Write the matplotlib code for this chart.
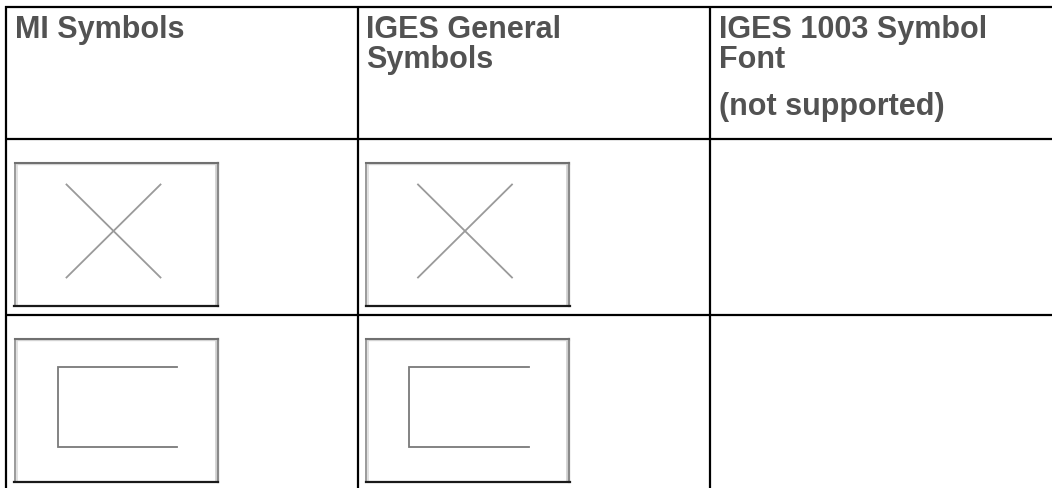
import matplotlib.pyplot as plt

# table content
headers = [
    ["MI Symbols"],
    ["IGES General", "Symbols"],
    ["IGES 1003 Symbol", "Font", "(not supported)"],
]
# symbol shown in each body cell (None = empty cell)
row_symbols = [
    ["cross", "cross", None],
    ["bracket", "bracket", None],
]

W, H = 1052, 489
col_edges = [6, 357.5, 710]
row_edges = [7.5, 139.5, 315.5]
line_baselines = [38, 68, 115.5]

fig = plt.figure(figsize=(W / 100, H / 100), dpi=100)
ax = fig.add_axes([0, 0, 1, 1])
ax.set_xlim(0, W)
ax.set_ylim(H, 0)
ax.axis("off")

lw = 1.6
# grid lines
for y in row_edges:
    ax.plot([col_edges[0] - 1, W + 5], [y, y], color="black", lw=lw, solid_capstyle="butt")
for x in col_edges:
    ax.plot([x, x], [row_edges[0] - 1, H + 5], color="black", lw=lw, solid_capstyle="butt")

# header text
for ci, lines in enumerate(headers):
    for li, txt in enumerate(lines):
        ax.text(col_edges[ci] + 9, line_baselines[li], txt, fontsize=22,
                fontweight="bold", family="Liberation Sans", color="#525252",
                va="baseline", ha="left")


def frame(x0, y0, w, h):
    x1, y1 = x0 + w, y0 + h
    # soft inner shading
    ax.plot([x0 + 2, x0 + 2], [y0 + 1, y1 - 1], color="#dcdcdc", lw=1.2)
    ax.plot([x1 - 2, x1 - 2], [y0 + 1, y1 - 1], color="#d0d0d0", lw=1.2)
    ax.plot([x0, x1], [y0 + 1.5, y0 + 1.5], color="#d8d8d8", lw=1.0)
    ax.plot([x0, x0], [y0, y1], color="#9a9a9a", lw=1.4)
    ax.plot([x1, x1], [y0, y1], color="#8a8a8a", lw=1.6)
    ax.plot([x0, x1], [y0, y0], color="#707070", lw=1.5)
    ax.plot([x0 - 0.5, x1 + 0.5], [y1, y1], color="#1a1a1a", lw=1.6)


def cross(x0, y0):
    ax.plot([x0 + 52, x0 + 146], [y0 + 22, y0 + 115], color="#9a9a9a", lw=1.3)
    ax.plot([x0 + 52, x0 + 146], [y0 + 115, y0 + 22], color="#9a9a9a", lw=1.3)


def bracket(x0, y0):
    ax.plot([x0 + 162.5, x0 + 43, x0 + 43, x0 + 162.5],
            [y0 + 28, y0 + 28, y0 + 108, y0 + 108],
            color="#7a7a7a", lw=1.3, solid_joinstyle="miter")


img_w, img_h = 203, 143
for ri, row in enumerate(row_symbols):
    for ci, sym in enumerate(row):
        if sym is None:
            continue
        x0 = col_edges[ci] + 8.5
        y0 = row_edges[ri + 1] + 24
        frame(x0, y0, img_w, img_h)
        if sym == "cross":
            cross(x0, y0)
        elif sym == "bracket":
            bracket(x0, y0)

fig.savefig("out.png", dpi=100)
